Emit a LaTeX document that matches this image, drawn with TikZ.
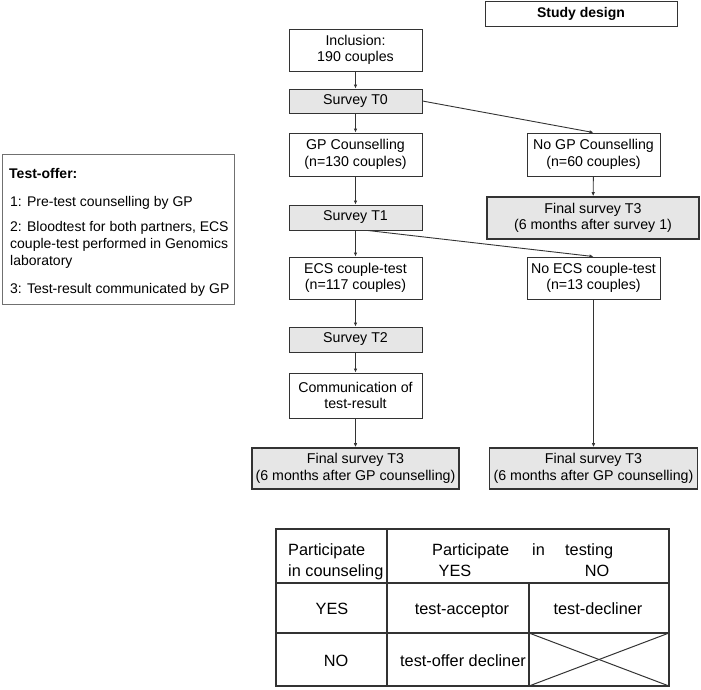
\documentclass[tikz,border=0pt]{standalone}
\usepackage{fontspec}
\setmainfont{Liberation Sans}
\usetikzlibrary{arrows.meta,calc}
\definecolor{boxline}{HTML}{333333}
\definecolor{boxfill}{HTML}{E6E6E6}
\definecolor{offerline}{HTML}{707070}
\begin{document}
\begin{tikzpicture}[x=1pt,y=-1pt,
  base/.style={draw=boxline,line width=0.9pt,inner sep=0pt,align=center,
    font=\fontsize{14.2}{16.5}\selectfont},
  wbox/.style={base,fill=white},
  gbox/.style={base,fill=boxfill},
  fbox/.style={base,fill=boxfill,line width=1.6pt},
  arr/.style={draw=boxline,line width=0.9pt,-{Latex[length=4pt,width=3.5pt]}},
  tfont/.style={font=\fontsize{16.3}{19}\selectfont,inner sep=0pt,anchor=base},
  ofont/.style={font=\fontsize{14}{17}\selectfont,inner sep=0pt,anchor=base west}]
\useasboundingbox (0,0) rectangle (701,689);
% title
\node[wbox,minimum width=192pt,minimum height=25pt,font=\fontsize{14}{16.5}\selectfont\bfseries] (design) at (581,13.5) {Study design};
% left column
\node[wbox,minimum width=133pt,minimum height=42pt] (incl) at (355.5,50) {Inclusion:\\190 couples};
\node[gbox,minimum width=133pt,minimum height=24pt] (t0) at (355.5,101) {Survey T0};
\node[wbox,minimum width=133pt,minimum height=43pt] (gp) at (355.5,154.5) {GP Counselling\\(n=130 couples)};
\node[gbox,minimum width=133pt,minimum height=25pt] (t1) at (355.5,217.5) {Survey T1};
\node[wbox,minimum width=133pt,minimum height=42pt] (ecs) at (355.5,278) {ECS couple-test\\(n=117 couples)};
\node[gbox,minimum width=133pt,minimum height=25pt] (t2) at (355.5,339.5) {Survey T2};
\node[wbox,minimum width=133pt,minimum height=45pt] (comm) at (355.5,395.5) {Communication of\\test-result};
\node[fbox,minimum width=207pt,minimum height=41pt] (fin2) at (355.5,468.5) {Final survey T3\\(6 months after GP counselling)};
% right column
\node[wbox,minimum width=133pt,minimum height=43pt] (nogp) at (593.5,154.5) {No GP Counselling\\(n=60 couples)};
\node[fbox,minimum width=212pt,minimum height=42pt] (fin1) at (593,218) {Final survey T3\\(6 months after survey 1)};
\node[wbox,minimum width=133pt,minimum height=42pt] (noecs) at (593.5,278) {No ECS couple-test\\(n=13 couples)};
\node[fbox,minimum width=208pt,minimum height=41pt] (fin3) at (593.5,468.5) {Final survey T3\\(6 months after GP counselling)};
% arrows
\draw[arr] (incl) -- (t0);
\draw[arr] (t0) -- (gp);
\draw[arr] (gp) -- (t1);
\draw[arr] (t1) -- (ecs);
\draw[arr] (ecs) -- (t2);
\draw[arr] (t2) -- (comm);
\draw[arr] (comm) -- (fin2);
\draw[arr] (t0.east) -- (nogp.north);
\draw[arr] (nogp) -- (fin1);
\coordinate (t1out) at ($(t1.south)+(12,0)$);
\draw[arr] (t1out) -- (noecs.north);
\draw[arr] (noecs) -- (fin3);
% test-offer box
\draw[draw=offerline,line width=1pt] (2,154) rectangle (234,304);
\node[ofont,font=\fontsize{14}{17}\selectfont\bfseries] (o0) at (9,178) {Test-offer:};
\node[ofont] (o1) at (10,206) {1: Pre-test counselling by GP};
\node[ofont] (o2) at (10,231) {2: Bloodtest for both partners, ECS};
\node[ofont] (o3) at (10,248) {couple-test performed in Genomics};
\node[ofont] (o4) at (10,265) {laboratory};
\node[ofont] (o5) at (10,293) {3: Test-result communicated by GP};
% table
\draw[draw=boxline,line width=1.5pt] (276,529) rectangle (669,686);
\draw[draw=boxline,line width=1.5pt] (387,529) -- (387,686);
\draw[draw=boxline,line width=1.5pt] (276,583) -- (669,583);
\draw[draw=boxline,line width=1.5pt] (276,633) -- (669,633);
\draw[draw=boxline,line width=1.5pt] (529,583) -- (529,686);
\draw[draw=boxline,line width=1pt] (529,633) -- (669,686);
\draw[draw=boxline,line width=1pt] (529,686) -- (669,633);
\node[tfont,anchor=base west] (h1) at (288,555) {Participate};
\node[tfont,anchor=base west] (h2) at (288,576) {in counseling};
\node[tfont,anchor=base west] (h3) at (432,555) {Participate};
\node[tfont,anchor=base west] (h4) at (532,555) {in};
\node[tfont,anchor=base west] (h5) at (565,555) {testing};
\node[tfont] (h6) at (455,576) {YES};
\node[tfont] (h7) at (597,576) {NO};
\node[tfont] (r1) at (332,614) {YES};
\node[tfont] (r2) at (462,614) {test-acceptor};
\node[tfont] (r3) at (598,614) {test-decliner};
\node[tfont] (r4) at (336,666) {NO};
\node[tfont] (r5) at (463,666) {test-offer decliner};
\end{tikzpicture}
\end{document}
